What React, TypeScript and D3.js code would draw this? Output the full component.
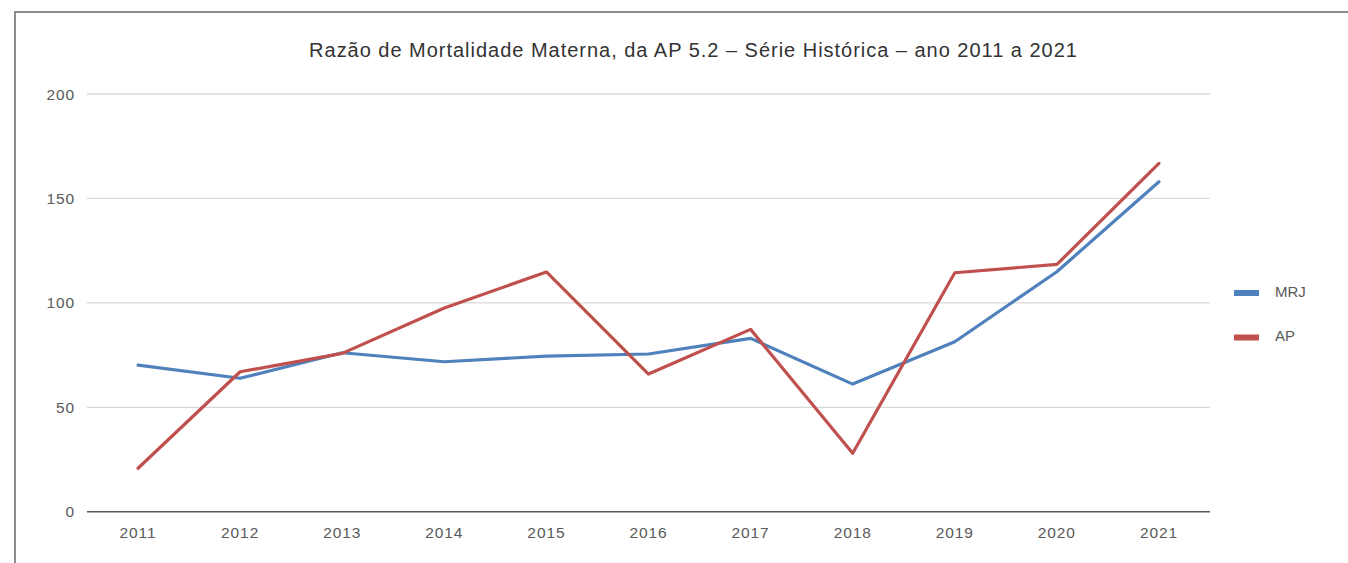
import React from "react";
import * as d3 from "d3";

const years = ["2011", "2012", "2013", "2014", "2015", "2016", "2017", "2018", "2019", "2020", "2021"];
const mrjValues = [70.2, 63.9, 76.1, 71.8, 74.5, 75.5, 83.0, 61.1, 81.4, 114.9, 158.0];
const apValues = [20.8, 67.0, 75.8, 97.5, 114.8, 65.9, 87.3, 28.0, 114.4, 118.4, 166.8];
const yTicks = [0, 50, 100, 150, 200];
const seriesNames = ["MRJ", "AP"];
const seriesColors = ["#4F81BD", "#C0504D"];
const title = "Razão de Mortalidade Materna, da AP 5.2 – Série Histórica – ano 2011 a 2021";

const W = 1348;
const H = 563;
const FONT = "'Liberation Sans', Arial, sans-serif";

export default function App() {
  const x = d3.scalePoint<string>().domain(years).range([87, 1210]).padding(0.5);
  const y = d3.scaleLinear().domain([0, 200]).range([511.7, 94]);
  const line = d3
    .line<number>()
    .x((_, i) => x(years[i]) as number)
    .y((d) => y(d));
  const series = [mrjValues, apValues];

  return (
    <div style={{ position: "absolute", left: 0, top: 0, background: "#fff" }}>
      <svg width={W} height={H} style={{ display: "block" }}>
        <rect x={0} y={0} width={W} height={H} fill="#fff" />
        <path d={`M15,${H} L15,12 L${W},12`} fill="none" stroke="#8c8c8c" strokeWidth={2} />
        <text x={693.5} y={50} textAnchor="middle" dominantBaseline="central" fontFamily={FONT} fontSize={20} letterSpacing={0.98} fill="#333333">
          {title}
        </text>
        {yTicks.map((t) => (
          <g key={t}>
            {t !== 0 && (
              <line x1={87} x2={1210} y1={y(t)} y2={y(t)} stroke="#d9d9d9" strokeWidth={1.3} />
            )}
            <text x={75} y={y(t)} textAnchor="end" dominantBaseline="central" fontFamily={FONT} fontSize={15.5} letterSpacing={0.9} fill="#595959">
              {t}
            </text>
          </g>
        ))}
        <line x1={87} x2={1210} y1={y(0)} y2={y(0)} stroke="#595959" strokeWidth={1.6} />
        {years.map((yr) => (
          <text key={yr} x={x(yr)} y={532} textAnchor="middle" dominantBaseline="central" fontFamily={FONT} fontSize={15.5} letterSpacing={0.9} fill="#595959">
            {yr}
          </text>
        ))}
        {series.map((vals, i) => (
          <path key={seriesNames[i]} d={line(vals) || ""} fill="none" stroke={seriesColors[i]} strokeWidth={3.2} strokeLinejoin="round" strokeLinecap="round" />
        ))}
        {seriesNames.map((name, i) => (
          <g key={name}>
            <line x1={1234} x2={1259} y1={293 + i * 44.5} y2={293 + i * 44.5} stroke={seriesColors[i]} strokeWidth={6} />
            <text x={1275} y={291 + i * 44.5} dominantBaseline="central" fontFamily={FONT} fontSize={15} fill="#595959">
              {name}
            </text>
          </g>
        ))}
      </svg>
    </div>
  );
}
